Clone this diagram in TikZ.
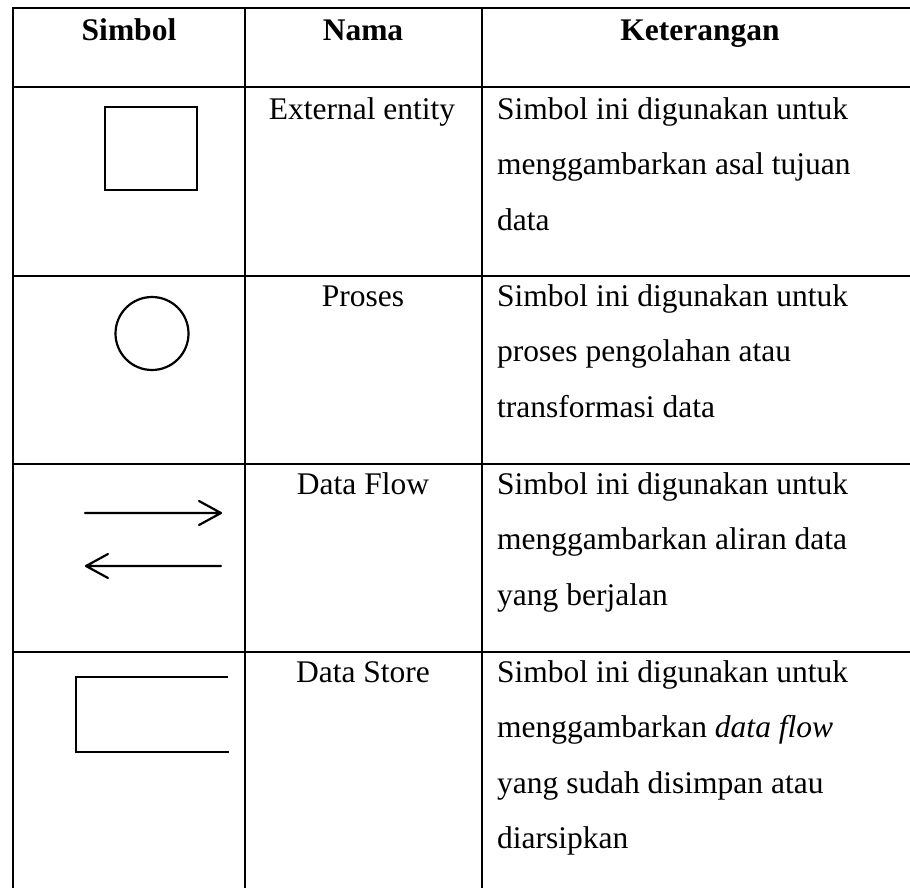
\documentclass[tikz,border=0pt]{standalone}
\usepackage{fontspec}
\setmainfont{Liberation Serif}
\begin{document}
\begin{tikzpicture}[x=1pt,y=-1pt,
  grid/.style={line width=2.2pt,line cap=rect},
  sym/.style={line width=2.2pt},
  cell/.style={font=\fontsize{31.5}{38}\selectfont,inner sep=0pt,anchor=base west},
  mid/.style={font=\fontsize{31.5}{38}\selectfont,inner sep=0pt,anchor=base},
  head/.style={font=\fontsize{31.5}{38}\selectfont\bfseries,inner sep=0pt,anchor=base}]
\useasboundingbox (0,0) rectangle (910,888);

% table rules
\foreach \y in {8,87,276,464,652} \draw[grid] (13,\y) -- (912,\y);
\foreach \x in {13,245,482} \draw[grid] (\x,8) -- (\x,890);

% header
\node[head] (h1) at (129,41) {Simbol};
\node[head] (h2) at (363,41) {Nama};
\node[head] (h3) at (700,41) {Keterangan};

% row 1: external entity
\draw[sym,line width=2.6pt] (105,107) rectangle (197,190);
\node[mid] (n1) at (362,119.5) {External entity};
\node[cell] (k1a) at (497,119.5) {Simbol ini digunakan untuk};
\node[cell] (k1b) at (497,175) {menggambarkan asal tujuan};
\node[cell] (k1c) at (497,230.5) {data};

% row 2: process
\draw[sym] (152,333.5) circle (36.5);
\node[mid] (n2) at (363,306) {Proses};
\node[cell] (k2a) at (497,306) {Simbol ini digunakan untuk};
\node[cell] (k2b) at (497,361.5) {proses pengolahan atau};
\node[cell] (k2c) at (497,417) {transformasi data};

% row 3: data flow
\draw[sym,line cap=round,line join=round] (85,513) -- (221,513) (199,501) -- (221,513) -- (199,525);
\draw[sym,line cap=round,line join=round] (221,566) -- (86,566) (108,554) -- (86,566) -- (108,578);
\node[mid] (n3) at (363,494) {Data Flow};
\node[cell] (k3a) at (497,494) {Simbol ini digunakan untuk};
\node[cell] (k3b) at (497,549.5) {menggambarkan aliran data};
\node[cell] (k3c) at (497,605) {yang berjalan};

% row 4: data store
\draw[sym] (228,677) -- (76,677) -- (76,752) -- (229,752);
\node[mid] (n4) at (363,682) {Data Store};
\node[cell] (k4a) at (497,682) {Simbol ini digunakan untuk};
\node[cell] (k4b) at (497,737) {menggambarkan \textit{data flow}};
\node[cell] (k4c) at (497,793) {yang sudah disimpan atau};
\node[cell] (k4d) at (497,848.5) {diarsipkan};
\end{tikzpicture}
\end{document}
